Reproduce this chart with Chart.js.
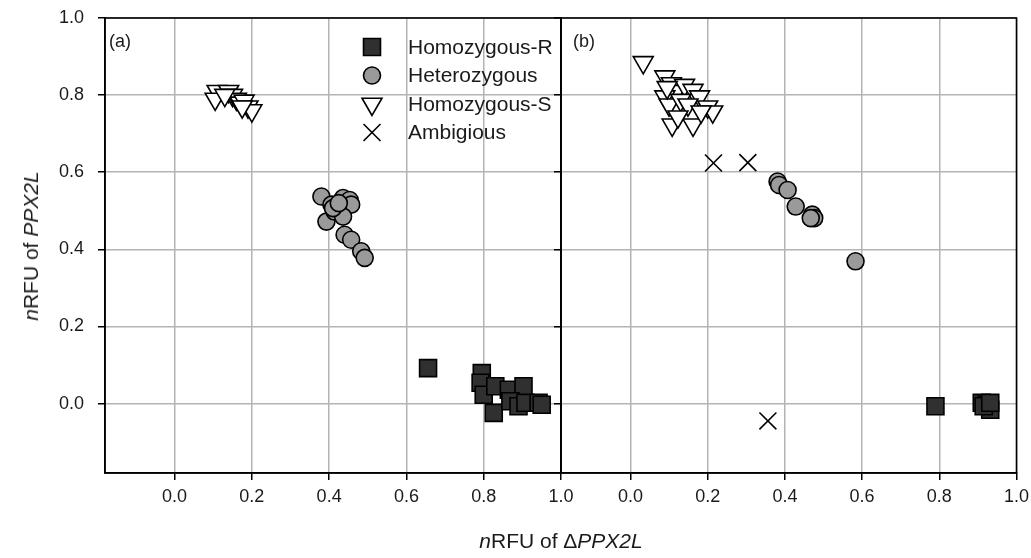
<!DOCTYPE html>
<html>
<head>
<meta charset="utf-8">
<script src="https://cdn.jsdelivr.net/npm/chart.js@4.4.0/dist/chart.umd.min.js"></script>
<style>
  body { margin: 0; background: #fff; width: 1031px; height: 558px; position: relative; overflow: hidden;
         font-family: "Liberation Sans", Arial, sans-serif; color: #1a1a1a; }
  canvas { position: absolute; top: 0; }
  #cA { left: 0; }
  #cB { left: 520px; }
  .ytitle { position: absolute; left: 31px; top: 246px; transform: translate(-50%, -50%) rotate(-90deg);
            font-size: 21px; white-space: nowrap; }
  .xtitle { position: absolute; left: 561px; top: 541px; transform: translate(-50%, -50%);
            font-size: 21px; white-space: nowrap; }
</style>
</head>
<body>
<canvas id="cA" width="590" height="558"></canvas>
<canvas id="cB" width="511" height="558"></canvas>
<div class="ytitle"><i>n</i>RFU of <i>PPX2L</i></div>
<div class="xtitle"><i>n</i>RFU of Δ<i>PPX2L</i></div>
<script>
// series names
const seriesNames = ['Homozygous-R', 'Heterozygous', 'Homozygous-S', 'Ambigious'];
const tickVals = [0.0, 0.2, 0.4, 0.6, 0.8, 1.0];

// panel (a)
const aHomR_x = [0.656, 0.795, 0.792, 0.80, 0.83, 0.865, 0.903, 0.826, 0.869, 0.89, 0.908, 0.942, 0.95];
const aHomR_y = [0.092, 0.079, 0.054, 0.023, 0.045, 0.036, 0.045, -0.024, 0.006, -0.007, 0.002, 0.002, -0.003];
const aHet_x = [0.38, 0.406, 0.393, 0.414, 0.436, 0.453, 0.457, 0.436, 0.44, 0.457, 0.483, 0.492, 0.41, 0.425];
const aHet_y = [0.537, 0.516, 0.472, 0.498, 0.533, 0.528, 0.516, 0.485, 0.438, 0.425, 0.395, 0.378, 0.507, 0.52];
const aHomS_x = [0.11, 0.105, 0.14, 0.15, 0.16, 0.17, 0.18, 0.19, 0.2, 0.175, 0.13];
const aHomS_y = [0.81, 0.79, 0.81, 0.80, 0.79, 0.78, 0.785, 0.77, 0.76, 0.77, 0.80];
const aAmb_x = [];
const aAmb_y = [];

// panel (b)
const bHomR_x = [0.79, 0.91, 0.923, 0.932, 0.915, 0.932];
const bHomR_y = [-0.007, 0.002, -0.003, -0.016, -0.007, 0.002];
const bHet_x = [0.381, 0.385, 0.407, 0.428, 0.471, 0.476, 0.467, 0.583];
const bHet_y = [0.576, 0.567, 0.554, 0.511, 0.49, 0.481, 0.481, 0.369];
const bHomS_x = [0.033, 0.089, 0.106, 0.119, 0.089, 0.10, 0.108, 0.162, 0.14, 0.162, 0.179, 0.2, 0.213, 0.13, 0.149, 0.183, 0.123, 0.095];
const bHomS_y = [0.885, 0.848, 0.83, 0.81, 0.796, 0.775, 0.723, 0.723, 0.826, 0.813, 0.796, 0.77, 0.757, 0.787, 0.775, 0.757, 0.744, 0.82];
const bAmb_x = [0.215, 0.304, 0.356];
const bAmb_y = [0.624, 0.625, -0.045];

const zip = (xs, ys) => xs.map((x, i) => ({x: x, y: ys[i]}));

const styles = [
  {pointStyle: 'rect', pointRadius: 12, pointBackgroundColor: '#303030', pointRotation: 0},
  {pointStyle: 'circle', pointRadius: 8.5, pointBackgroundColor: '#9a9a9a', pointRotation: 0},
  {pointStyle: 'triangle', pointRadius: 11.5, pointBackgroundColor: '#ffffff', pointRotation: 180},
  {pointStyle: 'crossRot', pointRadius: 12, pointBackgroundColor: '#000', pointRotation: 0}
];

function makeDatasets(sets) {
  return sets.map((s, i) => Object.assign({
    label: seriesNames[i],
    data: zip(s[0], s[1]),
    pointBorderColor: '#000',
    pointBorderWidth: 1.6,
    pointHoverRadius: styles[i].pointRadius,
    pointHoverBorderWidth: 1.6
  }, styles[i]));
}

const fixTicks = scale => { scale.ticks = tickVals.map(v => ({value: v})); };

// black frame round the plot area
const framePlugin = {
  id: 'frame',
  beforeDatasetsDraw(chart) {
    const a = chart.chartArea, ctx = chart.ctx;
    ctx.save();
    ctx.strokeStyle = '#000';
    ctx.lineWidth = 1.6;
    ctx.strokeRect(a.left, a.top, a.right - a.left, a.bottom - a.top);
    ctx.restore();
  }
};

// panel letter
const panelPlugin = {
  id: 'panelLabel',
  afterDatasetsDraw(chart, args, opts) {
    const ctx = chart.ctx;
    ctx.save();
    ctx.font = '18px "Liberation Sans", Arial, sans-serif';
    ctx.fillStyle = '#1a1a1a';
    ctx.textBaseline = 'middle';
    ctx.fillText(opts.text, chart.chartArea.left + opts.dx, 42);
    ctx.restore();
  }
};

// legend inside panel (a)
const legendPlugin = {
  id: 'markerLegend',
  afterDraw(chart, args, opts) {
    if (!opts.show) return;
    const ctx = chart.ctx;
    ctx.save();
    chart.data.datasets.forEach((ds, i) => {
      const y = 47 + i * 28.5;
      ctx.fillStyle = ds.pointBackgroundColor;
      ctx.strokeStyle = '#000';
      ctx.lineWidth = 1.6;
      Chart.helpers.drawPoint(ctx, {pointStyle: ds.pointStyle, rotation: ds.pointRotation,
        radius: ds.pointRadius, borderWidth: 1.6}, 372, y);
      ctx.font = '21px "Liberation Sans", Arial, sans-serif';
      ctx.fillStyle = '#1a1a1a';
      ctx.textBaseline = 'middle';
      ctx.fillText(ds.label, 408, y + 1);
    });
    ctx.restore();
  }
};

function makeChart(id, sets, opt) {
  const tickFont = {family: '"Liberation Sans", Arial, sans-serif', size: 18};
  return new Chart(document.getElementById(id), {
    type: 'scatter',
    data: {datasets: makeDatasets(sets)},
    options: {
      responsive: false,
      animation: false,
      layout: {padding: opt.padding},
      plugins: {
        legend: {display: false},
        tooltip: {enabled: false},
        panelLabel: {text: opt.label, dx: opt.labelDx},
        markerLegend: {show: opt.legend}
      },
      scales: {
        x: {
          type: 'linear', min: -0.18, max: 1.0,
          afterBuildTicks: fixTicks,
          afterFit: s => { s.height = 40; s.paddingLeft = 0; s.paddingRight = 0; },
          ticks: {font: tickFont, color: '#1a1a1a', padding: 6, maxRotation: 0,
                  callback: v => v.toFixed(1)},
          grid: {color: '#b4b4b4', lineWidth: 1.5, tickLength: 7, tickColor: '#000', tickWidth: 1.5},
          border: {color: '#000', width: 1.6}
        },
        y: {
          type: 'linear', min: -0.18, max: 1.0,
          afterBuildTicks: fixTicks,
          afterFit: s => { s.width = opt.yWidth; s.paddingTop = 0; s.paddingBottom = 0; },
          ticks: {display: opt.yLabels, font: tickFont, color: '#1a1a1a', padding: 14,
                  callback: v => v.toFixed(1)},
          grid: {color: '#b4b4b4', lineWidth: 1.5, tickLength: 7, tickColor: '#000', tickWidth: 1.5},
          border: {color: '#000', width: 1.6}
        }
      }
    },
    plugins: [framePlugin, panelPlugin, legendPlugin]
  });
}

makeChart('cA', [[aHomR_x, aHomR_y], [aHet_x, aHet_y], [aHomS_x, aHomS_y], [aAmb_x, aAmb_y]],
  {padding: {left: 0, right: 29, top: 18, bottom: 45}, yWidth: 105, yLabels: true,
   label: '(a)', labelDx: 4, legend: true});

makeChart('cB', [[bHomR_x, bHomR_y], [bHet_x, bHet_y], [bHomS_x, bHomS_y], [bAmb_x, bAmb_y]],
  {padding: {left: 0, right: 14.5, top: 18, bottom: 45}, yWidth: 41, yLabels: false,
   label: '(b)', labelDx: 12, legend: false});
</script>
</body>
</html>
